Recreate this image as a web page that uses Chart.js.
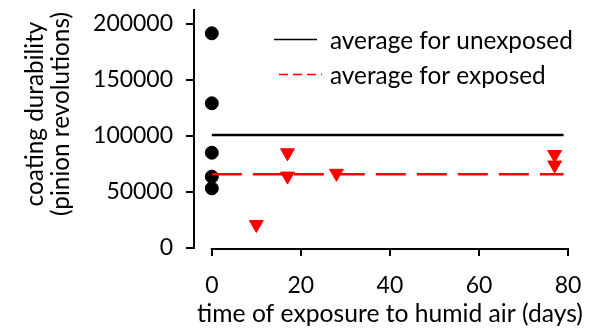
<!DOCTYPE html>
<html><head><meta charset="utf-8">
<script src="https://cdn.jsdelivr.net/npm/chart.js@4"></script>
<style>html,body{margin:0;padding:0;background:#fff}canvas{display:block}</style>
</head><body>
<canvas id="c" width="594" height="331"></canvas>
<script>
const xTicks = [0, 20, 40, 60, 80];
const yTicks = [0, 50000, 100000, 150000, 200000];
const unexposedDays = [0, 0, 0, 0, 0];
const unexposedDurability = [191700, 129200, 85100, 63700, 53300];
const exposedDays = [10, 17, 17, 28, 77, 77];
const exposedDurability = [21000, 85000, 64200, 66700, 83500, 74100];
const averageDays = [0, 79];
const averageUnexposed = 101000;
const averageExposed = 65800;
const seriesLabels = ['average for unexposed', 'average for exposed'];
const xTitle = 'time of exposure to humid air (days)';
const yTitle = ['coating durability', '(pinion revolutions)'];

const FAMILY = 'Lato, "Open Sans", sans-serif';
function fitSize(text, target) {
  const c = document.createElement('canvas').getContext('2d');
  c.font = '100px ' + FAMILY;
  return 100 * target / c.measureText(text).width;
}
const tickSize = fitSize('200000', 80);
const legendSize = fitSize(seriesLabels[0], 243);
const xTitleSize = fitSize(xTitle, 386);
const yTitleSize = fitSize(yTitle[1], 204);

const deco = {
  id: 'deco',
  afterDraw(chart) {
    const {ctx, chartArea, scales: {x}} = chart;
    ctx.save();
    // detached x axis line
    ctx.strokeStyle = '#000';
    ctx.lineWidth = 2;
    ctx.beginPath();
    const yl = chartArea.bottom + 1;
    ctx.moveTo(x.getPixelForValue(xTicks[0]) - 1, yl);
    ctx.lineTo(x.getPixelForValue(xTicks[xTicks.length - 1]) + 1, yl);
    ctx.stroke();
    // legend
    const ds = chart.data.datasets;
    ctx.lineWidth = 1.5;
    ctx.strokeStyle = ds[0].borderColor;
    ctx.beginPath(); ctx.moveTo(274, 39.5); ctx.lineTo(317, 39.5); ctx.stroke();
    ctx.strokeStyle = ds[1].borderColor;
    ctx.setLineDash([9, 5]);
    ctx.beginPath(); ctx.moveTo(279, 74.5); ctx.lineTo(322, 74.5); ctx.stroke();
    ctx.setLineDash([]);
    ctx.fillStyle = '#000';
    ctx.textBaseline = 'middle';
    ctx.textAlign = 'left';
    ctx.font = legendSize + 'px ' + FAMILY;
    ctx.fillText(ds[0].label, 330, 41);
    ctx.fillText(ds[1].label, 330, 76);
    // x title
    ctx.textAlign = 'center';
    ctx.font = xTitleSize + 'px ' + FAMILY;
    ctx.fillText(xTitle, 390, 314);
    // y title
    ctx.font = yTitleSize + 'px ' + FAMILY;
    ctx.translate(48, 114);
    ctx.rotate(-Math.PI / 2);
    ctx.fillText(yTitle[0], 0, -13);
    ctx.fillText(yTitle[1], 0, 13);
    ctx.restore();
  }
};

const tickLH = 1.2;
new Chart(document.getElementById('c'), {
  type: 'scatter',
  data: {
    datasets: [
      { type: 'line', label: seriesLabels[0],
        data: averageDays.map(d => ({x: d, y: averageUnexposed})),
        borderColor: '#000000', borderWidth: 2.5, pointRadius: 0, fill: false, order: 0 },
      { type: 'line', label: seriesLabels[1],
        data: averageDays.map(d => ({x: d, y: averageExposed})),
        borderColor: '#ff0000', borderWidth: 2.5, borderDash: [30, 11], pointRadius: 0, fill: false, order: 0 },
      { label: 'unexposed',
        data: unexposedDays.map((d, i) => ({x: d, y: unexposedDurability[i]})),
        pointStyle: 'circle', pointRadius: 6.5, pointBorderWidth: 1,
        pointBackgroundColor: '#000', pointBorderColor: '#000', order: 1 },
      { label: 'exposed',
        data: exposedDays.map((d, i) => ({x: d, y: exposedDurability[i]})),
        pointStyle: 'triangle', pointRotation: 180, pointRadius: 8, pointBorderWidth: 1,
        pointBackgroundColor: '#ff0000', pointBorderColor: '#ff0000', order: 1 }
    ]
  },
  options: {
    responsive: false,
    animation: false,
    devicePixelRatio: 1,
    events: [],
    layout: { padding: { top: 10, right: 26, left: 0, bottom: 0 } },
    plugins: { legend: { display: false }, tooltip: { enabled: false } },
    scales: {
      x: {
        type: 'linear', min: -4, max: 80,
        afterBuildTicks: s => { s.ticks = xTicks.map(v => ({value: v})); },
        afterFit: s => { s.height = 83; s.paddingLeft = 0; s.paddingRight = 0; },
        border: { display: false },
        grid: { drawOnChartArea: false, drawTicks: true, tickLength: 8, color: '#000', lineWidth: 2 },
        ticks: { color: '#000', font: { family: FAMILY, size: tickSize, lineHeight: tickLH },
                 padding: 286 - 248 - 8 - tickSize * tickLH / 2, maxRotation: 0, autoSkip: false }
      },
      y: {
        type: 'linear', min: 0, max: 212500,
        afterBuildTicks: s => { s.ticks = yTicks.map(v => ({value: v})); },
        afterFit: s => { s.width = 194; s.paddingTop = 0; s.paddingBottom = 0; },
        border: { display: true, color: '#000', width: 2 },
        grid: { drawOnChartArea: false, drawTicks: true, tickLength: 8, color: '#000', lineWidth: 2 },
        ticks: { color: '#000', font: { family: FAMILY, size: tickSize, lineHeight: tickLH },
                 padding: 13, autoSkip: false, callback: v => String(v) }
      }
    }
  },
  plugins: [deco]
});
</script>
</body></html>
